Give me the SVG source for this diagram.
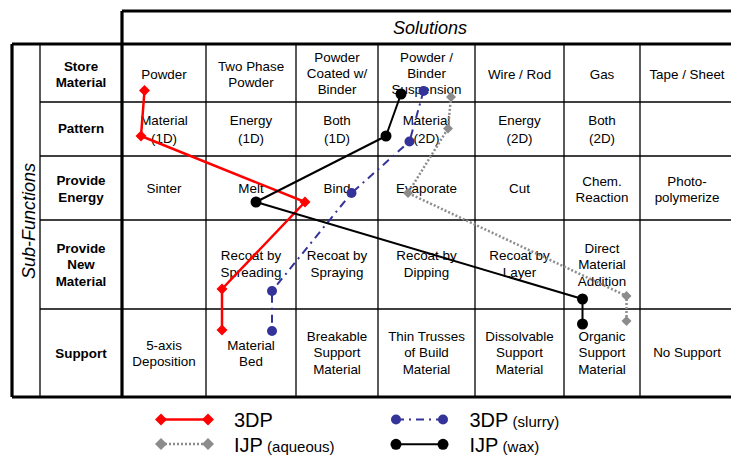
<svg xmlns="http://www.w3.org/2000/svg" width="731" height="457" viewBox="0 0 731 457">
<style>
  text { font-family: "Liberation Sans", Arial, sans-serif; fill: #000; }
  .c { font-size: 13.4px; text-anchor: middle; }
  .b { font-size: 13.4px; font-weight: bold; text-anchor: middle; }
  .thin { stroke: #000; stroke-width: 1.3; fill: none; }
  .thick { stroke: #000; stroke-width: 3.2; fill: none; }
  .s { fill: none; stroke-linejoin: round; }
  .red { stroke: #ff0000; stroke-width: 2.5; }
  .blue { stroke: #333399; stroke-width: 2; stroke-dasharray: 8 5 2 5; }
  .gray { stroke: #8c8c8c; stroke-width: 2.5; stroke-dasharray: 2 2; }
  .black { stroke: #000; stroke-width: 2; }
  .lg { font-size: 20px; }
  .sm { font-size: 15px; }
</style>
<defs>
  <marker id="dRed" markerUnits="userSpaceOnUse" markerWidth="14" markerHeight="14" refX="7" refY="7" overflow="visible">
    <path d="M7 1.5 L12.5 7 L7 12.5 L1.5 7 Z" fill="#ff0000"/>
  </marker>
  <marker id="dGray" markerUnits="userSpaceOnUse" markerWidth="14" markerHeight="14" refX="7" refY="7" overflow="visible">
    <path d="M7 2 L12 7 L7 12 L2 7 Z" fill="#8c8c8c"/>
  </marker>
  <marker id="cBlue" markerUnits="userSpaceOnUse" markerWidth="14" markerHeight="14" refX="7" refY="7" overflow="visible">
    <circle cx="7" cy="7" r="5" fill="#333399"/>
  </marker>
  <marker id="cBlack" markerUnits="userSpaceOnUse" markerWidth="14" markerHeight="14" refX="7" refY="7" overflow="visible">
    <circle cx="7" cy="7" r="5.5" fill="#000"/>
  </marker>
  <marker id="dRedL" markerUnits="userSpaceOnUse" markerWidth="14" markerHeight="14" refX="7" refY="7" overflow="visible">
    <path d="M7 1 L13 7 L7 13 L1 7 Z" fill="#ff0000"/>
  </marker>
  <marker id="dGrayL" markerUnits="userSpaceOnUse" markerWidth="14" markerHeight="14" refX="7" refY="7" overflow="visible">
    <path d="M7 1 L13 7 L7 13 L1 7 Z" fill="#8c8c8c"/>
  </marker>
</defs>
<rect width="731" height="457" fill="#fff"/>

<g id="grid">
  <line class="thin" x1="40" y1="44" x2="40" y2="397"/>
  <line class="thin" x1="206" y1="44" x2="206" y2="397"/>
  <line class="thin" x1="296" y1="44" x2="296" y2="397"/>
  <line class="thin" x1="378" y1="44" x2="378" y2="397"/>
  <line class="thin" x1="475" y1="44" x2="475" y2="397"/>
  <line class="thin" x1="564" y1="44" x2="564" y2="397"/>
  <line class="thin" x1="640" y1="44" x2="640" y2="397"/>
  <line class="thin" x1="40" y1="102" x2="731" y2="102"/>
  <line class="thin" x1="40" y1="156" x2="731" y2="156"/>
  <line class="thin" x1="40" y1="220" x2="731" y2="220"/>
  <line class="thin" x1="40" y1="309" x2="731" y2="309"/>
  <line class="thick" x1="122" y1="11" x2="731" y2="11"/>
  <line class="thick" x1="122" y1="11" x2="122" y2="397"/>
  <line class="thick" x1="12" y1="44" x2="731" y2="44"/>
  <line class="thick" x1="12" y1="44" x2="12" y2="397"/>
  <line class="thick" x1="12" y1="397" x2="731" y2="397"/>
</g>

<g id="headers">
  <text x="393" y="34" font-size="18" font-style="italic">Solutions</text>
  <text transform="translate(34.5,221) rotate(-90)" font-size="18" font-style="italic" text-anchor="middle">Sub-Functions</text>
</g>

<g id="row-store">
  <text class="b" x="81" y="71">Store</text><text class="b" x="81" y="87">Material</text>
  <text class="c" x="164" y="79">Powder</text>
  <text class="c" x="251" y="71">Two Phase</text><text class="c" x="251" y="87">Powder</text>
  <text class="c" x="337" y="62">Powder</text><text class="c" x="337" y="78">Coated w/</text><text class="c" x="337" y="94">Binder</text>
  <text class="c" x="426.5" y="62">Powder /</text><text class="c" x="426.5" y="78">Binder</text><text class="c" x="426.5" y="94">Suspension</text>
  <text class="c" x="519.5" y="79">Wire / Rod</text>
  <text class="c" x="602" y="79">Gas</text>
  <text class="c" x="687" y="79">Tape / Sheet</text>
</g>

<g id="row-pattern">
  <text class="b" x="81" y="133">Pattern</text>
  <text class="c" x="164" y="124.5">Material</text><text class="c" x="164" y="143">(1D)</text>
  <text class="c" x="251" y="124.5">Energy</text><text class="c" x="251" y="143">(1D)</text>
  <text class="c" x="337" y="124.5">Both</text><text class="c" x="337" y="143">(1D)</text>
  <text class="c" x="426.5" y="124.5">Material</text><text class="c" x="426.5" y="143">(2D)</text>
  <text class="c" x="519.5" y="124.5">Energy</text><text class="c" x="519.5" y="143">(2D)</text>
  <text class="c" x="602" y="124.5">Both</text><text class="c" x="602" y="143">(2D)</text>
</g>

<g id="row-energy">
  <text class="b" x="81" y="185">Provide</text><text class="b" x="81" y="201.5">Energy</text>
  <text class="c" x="164" y="193.3">Sinter</text>
  <text class="c" x="251" y="193.3">Melt</text>
  <text class="c" x="337" y="193.3">Bind</text>
  <text class="c" x="426.5" y="193.3">Evaporate</text>
  <text class="c" x="519.5" y="193.3">Cut</text>
  <text class="c" x="602" y="185.5">Chem.</text><text class="c" x="602" y="201.5">Reaction</text>
  <text class="c" x="687" y="185.5">Photo-</text><text class="c" x="687" y="201.5">polymerize</text>
</g>

<g id="row-newmaterial">
  <text class="b" x="81" y="253">Provide</text><text class="b" x="81" y="269">New</text><text class="b" x="81" y="285.5">Material</text>
  <text class="c" x="251" y="260">Recoat by</text><text class="c" x="251" y="276.5">Spreading</text>
  <text class="c" x="337" y="260">Recoat by</text><text class="c" x="337" y="276.5">Spraying</text>
  <text class="c" x="426.5" y="260">Recoat by</text><text class="c" x="426.5" y="276.5">Dipping</text>
  <text class="c" x="519.5" y="260">Recoat by</text><text class="c" x="519.5" y="276.5">Layer</text>
  <text class="c" x="602" y="253">Direct</text><text class="c" x="602" y="269">Material</text><text class="c" x="602" y="285.5">Addition</text>
</g>

<g id="row-support">
  <text class="b" x="81" y="357.5">Support</text>
  <text class="c" x="164" y="350">5-axis</text><text class="c" x="164" y="366">Deposition</text>
  <text class="c" x="251" y="350">Material</text><text class="c" x="251" y="366">Bed</text>
  <text class="c" x="337" y="340.7">Breakable</text><text class="c" x="337" y="357.3">Support</text><text class="c" x="337" y="374">Material</text>
  <text class="c" x="426.5" y="340.7">Thin Trusses</text><text class="c" x="426.5" y="357.3">of Build</text><text class="c" x="426.5" y="374">Material</text>
  <text class="c" x="519.5" y="340.7">Dissolvable</text><text class="c" x="519.5" y="357.3">Support</text><text class="c" x="519.5" y="374">Material</text>
  <text class="c" x="602" y="340.7">Organic</text><text class="c" x="602" y="357.3">Support</text><text class="c" x="602" y="374">Material</text>
  <text class="c" x="687" y="357.3">No Support</text>
</g>

<g id="connectors">
  <polyline id="ijp-aqueous" class="s gray" points="451,97 448,128.5 408,193 626.5,296 626.5,321" marker-start="url(#dGray)" marker-mid="url(#dGray)" marker-end="url(#dGray)"/>
  <polyline id="3dp-slurry" class="s blue" points="423.5,91 409.5,141.5 351.5,193 272,291 272,331" marker-start="url(#cBlue)" marker-mid="url(#cBlue)" marker-end="url(#cBlue)"/>
  <polyline id="3dp" class="s red" points="144.5,90.5 141,136 305,202 222,289 222,330" marker-start="url(#dRed)" marker-mid="url(#dRed)" marker-end="url(#dRed)"/>
  <polyline id="ijp-wax" class="s black" points="401,94 386,136 256,202 582.5,299 582.5,324" marker-start="url(#cBlack)" marker-mid="url(#cBlack)" marker-end="url(#cBlack)"/>
</g>

<g id="legend">
  <line class="s red" x1="161" y1="419.5" x2="208" y2="419.5" marker-start="url(#dRedL)" marker-end="url(#dRedL)"/>
  <text class="lg" x="234" y="426.5">3DP</text>
  <line class="s gray" x1="161" y1="444" x2="208" y2="444" marker-start="url(#dGrayL)" marker-end="url(#dGrayL)"/>
  <text x="234" y="451.5"><tspan class="lg">IJP</tspan><tspan class="sm"> (aqueous)</tspan></text>
  <line class="s blue" x1="396" y1="419.5" x2="443" y2="419.5" marker-start="url(#cBlue)" marker-end="url(#cBlue)"/>
  <text x="469.5" y="426.5"><tspan class="lg">3DP</tspan><tspan class="sm"> (slurry)</tspan></text>
  <line class="s black" x1="396" y1="444.3" x2="443" y2="444.3" marker-start="url(#cBlack)" marker-end="url(#cBlack)"/>
  <text x="469.5" y="451.5"><tspan class="lg">IJP</tspan><tspan class="sm"> (wax)</tspan></text>
</g>
</svg>
